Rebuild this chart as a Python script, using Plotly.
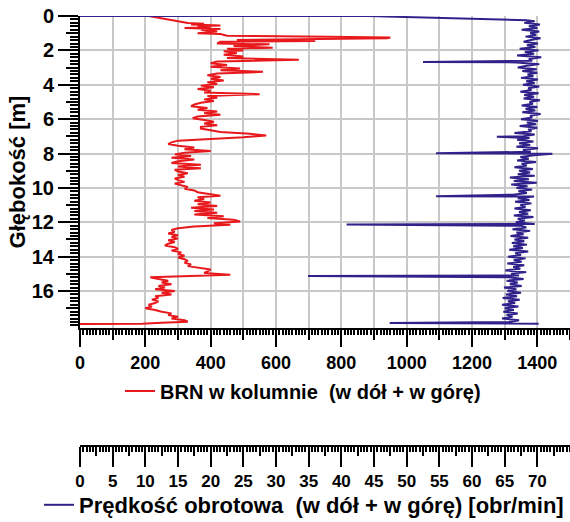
import plotly.graph_objects as go

# ---------------- data ----------------
# BRN w kolumnie (red), depth [m] and value
brn_depth = [0.00, 0.10, 0.20, 0.30, 0.40, 0.45, 0.50, 0.55, 0.60, 0.65, 0.70, 0.75, 0.80, 0.90,
             1.00, 1.05, 1.15, 1.20, 1.25, 1.30, 1.35, 1.40, 1.45, 1.50, 1.60, 1.65, 1.75, 1.85,
             1.90, 2.00, 2.05, 2.15, 2.25, 2.35, 2.45, 2.55, 2.65, 2.75, 2.85, 2.95, 3.05, 3.15,
             3.25, 3.35, 3.45, 3.55, 3.65, 3.75, 3.85, 3.95, 4.05, 4.15, 4.25, 4.35, 4.45, 4.55,
             4.65, 4.75, 4.85, 4.95, 5.05, 5.15, 5.25, 5.35, 5.45, 5.55, 5.65, 5.75, 5.85, 5.95,
             6.05, 6.15, 6.25, 6.35, 6.45, 6.55, 6.65, 6.75, 6.85, 6.95, 7.05, 7.15, 7.25, 7.35,
             7.45, 7.55, 7.65, 7.75, 7.85, 7.95, 8.05, 8.15, 8.25, 8.35, 8.45, 8.55, 8.65, 8.75,
             8.85, 8.95, 9.05, 9.15, 9.25, 9.35, 9.45, 9.55, 9.65, 9.75, 9.85, 9.95, 10.05, 10.15,
             10.25, 10.35, 10.45, 10.55, 10.65, 10.75, 10.85, 10.95, 11.05, 11.15, 11.25, 11.35,
             11.45, 11.55, 11.65, 11.75, 11.85, 11.95, 12.05, 12.15, 12.25, 12.35, 12.45, 12.55,
             12.65, 12.75, 12.85, 12.95, 13.05, 13.15, 13.25, 13.35, 13.45, 13.55, 13.65, 13.75,
             13.85, 13.95, 14.05, 14.15, 14.25, 14.35, 14.45, 14.55, 14.65, 14.75, 14.85, 14.95,
             15.05, 15.12, 15.20, 15.30, 15.40, 15.50, 15.60, 15.70, 15.80, 15.90, 16.00, 16.10,
             16.20, 16.30, 16.40, 16.50, 16.60, 16.70, 16.80, 16.90, 17.00, 17.10, 17.20, 17.30,
             17.40, 17.50, 17.60, 17.70, 17.78, 17.84, 17.90, 17.92]
brn_value = [210, 240, 275, 310, 330, 380, 340, 430, 360, 400, 320, 430, 370, 420,
             360, 430, 450, 760, 950, 940, 580, 480, 720, 430, 420, 580, 470, 590,
             450, 500, 440, 480, 440, 500, 450, 670, 420, 400, 450, 400, 490, 430,
             560, 420, 390, 430, 400, 440, 390, 420, 370, 410, 360, 400, 380, 550,
             390, 420, 380, 410, 370, 350, 340, 390, 360, 420, 380, 430, 360, 345,
             380, 410, 380, 420, 370, 370, 400, 430, 520, 570, 500, 380, 300, 280,
             270, 300, 350, 320, 400, 320, 290, 340, 280, 350, 300, 280, 370, 300,
             370, 290, 300, 330, 300, 320, 290, 300, 320, 290, 310, 330, 320, 350,
             360, 400, 430, 360, 380, 350, 400, 360, 420, 340, 410, 350,
             420, 350, 440, 390, 470, 490, 410, 460, 350, 300, 280, 290,
             270, 300, 280, 300, 270, 290, 270, 260, 290, 300, 280, 310,
             300, 320, 300, 320, 330, 320, 340, 330, 370, 400, 390, 380,
             460, 300, 215, 240, 270, 250, 280, 240, 260, 230, 290, 250,
             280, 230, 240, 220, 240, 230, 210, 220, 200, 230, 250, 280,
             270, 300, 280, 320, 330, 250, 190, 0]

# Prędkość obrotowa (blue), depth [m] and value [obr/min]
rpm_depth = [0.00, 0.00, 0.25,
             0.3, 0.4, 0.5, 0.6, 0.7, 0.8, 0.9, 1.0, 1.1, 1.2,
             1.3, 1.4, 1.5, 1.6, 1.7, 1.8, 1.9, 2.0, 2.1, 2.2,
             2.3, 2.4, 2.5, 2.6, 2.67, 2.7, 2.8, 2.9, 3.0, 3.1, 3.2,
             3.3, 3.4, 3.5, 3.6, 3.7, 3.8, 3.9, 4.0, 4.1, 4.2,
             4.3, 4.4, 4.5, 4.6, 4.7, 4.8, 4.9, 5.0, 5.1, 5.2,
             5.3, 5.4, 5.5, 5.6, 5.7, 5.8, 5.9, 6.0, 6.1, 6.2,
             6.3, 6.4, 6.5, 6.6, 6.7, 6.8, 6.9, 7.0, 7.02, 7.1, 7.2,
             7.3, 7.4, 7.5, 7.6, 7.7, 7.8, 7.9, 7.98, 8.0, 8.02, 8.1, 8.2,
             8.3, 8.4, 8.5, 8.6, 8.7, 8.8, 8.9, 9.0, 9.1, 9.2,
             9.3, 9.4, 9.5, 9.6, 9.7, 9.8, 9.9, 10.0, 10.1, 10.2,
             10.3, 10.4, 10.48, 10.5, 10.6, 10.7, 10.8, 10.9, 11.0, 11.1, 11.2,
             11.3, 11.4, 11.5, 11.6, 11.7, 11.8, 11.9, 12.0, 12.1, 12.13, 12.2,
             12.3, 12.4, 12.5, 12.6, 12.7, 12.8, 12.9, 13.0, 13.1, 13.2,
             13.3, 13.4, 13.5, 13.6, 13.7, 13.8, 13.9, 14.0, 14.1, 14.2,
             14.3, 14.4, 14.5, 14.6, 14.7, 14.8, 14.9, 15.0, 15.1, 15.13, 15.2,
             15.3, 15.4, 15.5, 15.6, 15.7, 15.8, 15.9, 16.0, 16.1, 16.2,
             16.3, 16.4, 16.5, 16.6, 16.7, 16.8, 16.9, 17.0, 17.1, 17.2,
             17.3, 17.4, 17.5, 17.6, 17.7, 17.8, 17.86, 17.90]
rpm_value = [0.0, 44.0, 68.3,
             69.6, 68.0, 70.4, 68.7, 70.0, 67.6, 70.3, 68.9, 69.8, 68.2,
             70.5, 69.0, 67.9, 70.1, 68.4, 69.7, 67.3, 70.2, 68.1, 69.5,
             66.9, 70.6, 68.7, 69.2, 52.5, 66.8, 70.3, 68.4, 67.0, 69.9, 67.7,
             70.0, 68.5, 69.4, 67.5, 70.1, 68.3, 69.6, 67.8, 70.3, 68.6,
             69.1, 67.4, 70.2, 68.0, 69.5, 67.9, 70.4, 68.8, 69.3, 67.6,
             70.0, 68.2, 69.7, 67.7, 70.5, 68.9, 69.2, 67.5, 70.1, 68.4,
             69.8, 67.3, 70.0, 68.6, 69.1, 66.5, 69.6, 67.9, 63.8, 68.8, 66.9,
             69.4, 67.2, 68.9, 66.8, 70.1, 67.8, 69.0, 54.5, 66.6, 72.3, 69.5, 67.4,
             68.7, 66.9, 69.8, 67.6, 68.4, 66.5, 69.3, 67.2, 68.9, 67.0,
             69.6, 65.8, 68.7, 66.4, 69.9, 66.0, 68.5, 66.8, 69.2, 67.1,
             68.4, 66.3, 54.5, 69.5, 67.0, 68.8, 66.6, 69.1, 67.4, 68.2, 66.5,
             69.0, 67.2, 68.6, 66.4, 69.4, 67.0, 68.1, 66.7, 69.6, 40.8, 67.5,
             68.3, 66.2, 68.9, 66.8, 67.9, 65.9, 68.6, 66.5, 68.0, 66.1,
             68.4, 66.3, 67.8, 65.7, 68.6, 66.6, 67.5, 65.5, 68.2, 66.4,
             67.6, 65.4, 68.0, 66.3, 67.4, 65.1, 68.3, 66.0, 67.2, 34.9, 65.6,
             67.9, 65.3, 67.0, 65.8, 67.6, 64.9, 66.8, 65.4, 67.5, 65.2,
             66.9, 64.7, 67.3, 65.5, 66.6, 64.6, 67.1, 65.0, 66.4, 64.8,
             67.0, 65.3, 66.2, 64.6, 67.2, 65.8, 47.4, 70.2]

brn_ticks = [0, 200, 400, 600, 800, 1000, 1200, 1400]
rpm_ticks = [0, 5, 10, 15, 20, 25, 30, 35, 40, 45, 50, 55, 60, 65, 70]
depth_ticks = [0, 2, 4, 6, 8, 10, 12, 14, 16]

RED = "#e8191c"
BLUE = "#30228a"
GRID = "#c8c8c8"
FONT = "Liberation Sans, Arial, sans-serif"

W, H = 570, 522
ML, MR, MT, MB = 80, 0, 16, 0
PW = W - ML - MR
PH = H - MT - MB


def py(win_y):
    """window pixel y -> paper fraction"""
    return (H - win_y) / PH


def px(win_x):
    """window pixel x -> paper fraction"""
    return (win_x - ML) / PW


y_dom_low = py(328)
rpm_pos = py(446)

tickfont_x = dict(family=FONT, size=18, color="black", weight="bold")
tickfont_y = dict(family=FONT, size=20, color="black", weight="bold")
tickfont2 = dict(family=FONT, size=17, color="black", weight="bold")

fig = go.Figure()
fig.add_trace(go.Scatter(
    x=brn_value, y=brn_depth, mode="lines",
    line=dict(color=RED, width=2),
    name="BRN w kolumnie \u00a0(w dół + w górę)",
    xaxis="x", yaxis="y", legend="legend"))
fig.add_trace(go.Scatter(
    x=rpm_value, y=rpm_depth, mode="lines",
    line=dict(color=BLUE, width=2),
    name="Prędkość obrotowa \u00a0(w dół + w górę) [obr/min]",
    xaxis="x2", yaxis="y", legend="legend2"))
# empty traces so the extra tick-only axes get drawn
for xa, ya in [("x3", "y"), ("x4", "y"), ("x", "y2")]:
    fig.add_trace(go.Scatter(x=[], y=[], xaxis=xa, yaxis=ya,
                             showlegend=False, hoverinfo="skip"))

yrange = [18.15, 0]

fig.update_layout(
    width=W, height=H,
    margin=dict(l=ML, r=MR, t=MT, b=MB, pad=0, autoexpand=False),
    paper_bgcolor="white", plot_bgcolor="white",
    font=dict(family=FONT, color="black"),
    xaxis=dict(
        domain=[0, 1], range=[0, 1500], anchor="y",
        tickmode="linear", tick0=0, dtick=100,
        ticks="outside", ticklen=10, tickwidth=2, tickcolor="black",
        showticklabels=False,
        showgrid=True, gridcolor=GRID, gridwidth=1.5,
        showline=True, linecolor="black", linewidth=2,
        zeroline=False, automargin=False,
        minor=dict(dtick=10, tick0=0, ticks="outside", ticklen=5,
                   tickwidth=1.5, tickcolor="black", showgrid=False),
    ),
    xaxis3=dict(
        overlaying="x", anchor="y", side="bottom", range=[0, 1500],
        tickmode="array", tickvals=brn_ticks,
        ticktext=[str(v) for v in brn_ticks],
        ticks="outside", ticklen=18, tickwidth=2, tickcolor="black",
        tickfont=tickfont_x, showgrid=False, showline=False, zeroline=False,
        automargin=False, ticklabeloverflow="allow",
    ),
    xaxis2=dict(
        overlaying="x", anchor="free", position=rpm_pos, side="bottom",
        range=[0, 75],
        tickmode="array", tickvals=rpm_ticks,
        ticktext=[str(v) for v in rpm_ticks],
        ticks="outside", ticklen=20, tickwidth=2, tickcolor="black",
        tickfont=tickfont2,
        showgrid=False, showline=True, linecolor="black", linewidth=2,
        zeroline=False, automargin=False, ticklabeloverflow="allow",
        minor=dict(dtick=0.5, tick0=0, ticks="outside", ticklen=5,
                   tickwidth=1.5, tickcolor="black", showgrid=False),
    ),
    xaxis4=dict(
        overlaying="x", anchor="free", position=rpm_pos, side="bottom",
        range=[0, 75],
        tickmode="array", tickvals=[v + 2.5 for v in rpm_ticks],
        ticks="outside", ticklen=9, tickwidth=1.5, tickcolor="black",
        showticklabels=False, showgrid=False, showline=False, zeroline=False,
        automargin=False,
    ),
    yaxis=dict(
        domain=[y_dom_low, 1], range=yrange, anchor="x",
        tickmode="array", tickvals=depth_ticks,
        ticktext=[str(v) for v in depth_ticks],
        ticks="outside", ticklen=20, tickwidth=2, tickcolor="black",
        tickfont=tickfont_y, ticklabeloverflow="allow",
        showgrid=True, gridcolor=GRID, gridwidth=1.5,
        showline=True, linecolor="black", linewidth=2, zeroline=False,
        automargin=False,
        minor=dict(dtick=0.2, tick0=0, ticks="outside", ticklen=8,
                   tickwidth=1.5, tickcolor="black", showgrid=False),
        title=dict(text="Głębokość [m]",
                   font=dict(family=FONT, size=22, color="black", weight="bold"),
                   standoff=0),
    ),
    yaxis2=dict(
        overlaying="y", anchor="x", side="left", range=yrange,
        tickmode="array", tickvals=[v + 1 for v in depth_ticks],
        ticks="outside", ticklen=13, tickwidth=1.5, tickcolor="black",
        showticklabels=False, showgrid=False, showline=False, zeroline=False,
        automargin=False,
    ),
    legend=dict(
        x=px(120), y=py(391),
        xanchor="left", yanchor="middle",
        bgcolor="rgba(0,0,0,0)",
        font=dict(family=FONT, size=20, color="black", weight="bold"),
    ),
    legend2=dict(
        x=px(39), y=py(505),
        xanchor="left", yanchor="middle",
        bgcolor="rgba(0,0,0,0)",
        font=dict(family=FONT, size=22, color="black", weight="bold"),
    ),
    showlegend=True,
)

# remove the browser's default 8 px body margin so the figure fills the window
fig.write_html("out.html",
               config={"displayModeBar": False},
               post_script="document.body.style.margin='0';")
